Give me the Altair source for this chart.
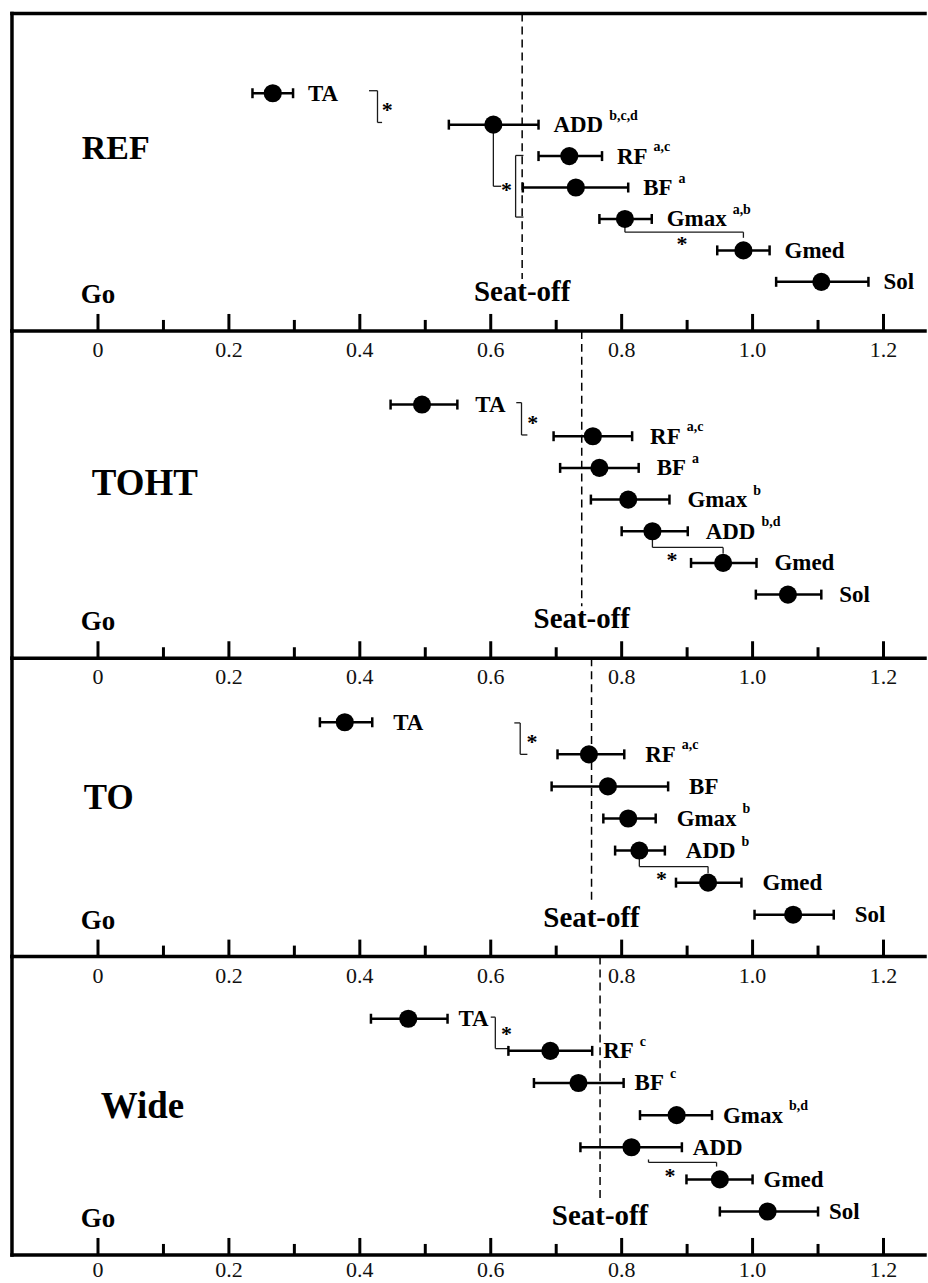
import altair as alt
import pandas as pd

# ---------------- values (time, s) ----------------
panel_names = ["REF", "TOHT", "TO", "Wide"]

ref_muscles = ["TA", "ADD", "RF", "BF", "Gmax", "Gmed", "Sol"]
ref_mean = [0.267, 0.604, 0.720, 0.730, 0.805, 0.986, 1.105]
ref_lo = [0.236, 0.536, 0.673, 0.649, 0.766, 0.946, 1.036]
ref_hi = [0.298, 0.673, 0.770, 0.810, 0.846, 1.026, 1.177]
ref_sup = ["", "b,c,d", "a,c", "a", "a,b", "", ""]
ref_seatoff = 0.648

toht_muscles = ["TA", "RF", "BF", "Gmax", "ADD", "Gmed", "Sol"]
toht_mean = [0.495, 0.756, 0.766, 0.810, 0.847, 0.955, 1.054]
toht_lo = [0.447, 0.696, 0.706, 0.753, 0.800, 0.906, 1.005]
toht_hi = [0.549, 0.816, 0.826, 0.873, 0.901, 1.006, 1.105]
toht_sup = ["", "a,c", "a", "b", "b,d", "", ""]
toht_seatoff = 0.739

to_muscles = ["TA", "RF", "BF", "Gmax", "ADD", "Gmed", "Sol"]
to_mean = [0.377, 0.750, 0.779, 0.810, 0.827, 0.932, 1.062]
to_lo = [0.339, 0.702, 0.693, 0.772, 0.790, 0.883, 1.003]
to_hi = [0.419, 0.804, 0.871, 0.852, 0.866, 0.983, 1.124]
to_sup = ["", "a,c", "", "b", "b", "", ""]
to_seatoff = 0.754

wide_muscles = ["TA", "RF", "BF", "Gmax", "ADD", "Gmed", "Sol"]
wide_mean = [0.474, 0.691, 0.734, 0.884, 0.815, 0.950, 1.023]
wide_lo = [0.417, 0.627, 0.666, 0.828, 0.737, 0.899, 0.950]
wide_hi = [0.534, 0.755, 0.803, 0.938, 0.892, 1.000, 1.100]
wide_sup = ["", "c", "c", "b,d", "", "", ""]
wide_seatoff = 0.767

# significance brackets: segments (time, time2, row, row2) and asterisks (time, row)
ref_brackets = [
    (0.414, 0.427, -0.08, -0.08), (0.427, 0.427, -0.08, 0.93), (0.427, 0.434, 0.93, 0.93),
    (0.604, 0.604, 1.00, 2.96), (0.604, 0.616, 2.96, 2.96),
    (0.638, 0.638, 1.98, 3.94), (0.638, 0.650, 1.98, 1.98), (0.638, 0.650, 3.94, 3.94),
    (0.805, 0.805, 4.00, 4.42), (0.805, 0.986, 4.42, 4.42), (0.986, 0.986, 4.42, 4.60),
]
ref_stars = [(0.442, 0.43), (0.624, 2.99), (0.892, 4.71)]

toht_brackets = [
    (0.639, 0.647, -0.06, -0.06), (0.647, 0.647, -0.06, 0.96), (0.647, 0.656, 0.96, 0.96),
    (0.847, 0.847, 4.00, 4.51), (0.847, 0.955, 4.51, 4.51), (0.955, 0.955, 4.51, 4.70),
]
toht_stars = [(0.664, 0.49), (0.877, 4.80)]

to_brackets = [
    (0.636, 0.645, 0.02, 0.02), (0.645, 0.645, 0.02, 1.00), (0.645, 0.656, 1.00, 1.00),
    (0.827, 0.827, 4.00, 4.50), (0.827, 0.932, 4.50, 4.50), (0.932, 0.932, 4.50, 4.70),
]
to_stars = [(0.663, 0.53), (0.861, 4.79)]

wide_brackets = [
    (0.600, 0.607, -0.05, -0.05), (0.607, 0.607, -0.05, 0.93), (0.607, 0.627, 0.93, 0.93),
    (0.841, 0.841, 4.38, 4.47), (0.841, 0.945, 4.47, 4.47), (0.945, 0.945, 4.47, 4.60),
]
wide_stars = [(0.624, 0.39), (0.874, 4.80)]

go_time = 0.0
tick_values = [0.0, 0.1, 0.2, 0.3, 0.4, 0.5, 0.6, 0.7, 0.8, 0.9, 1.0, 1.1, 1.2]
tick_major = [True, False, True, False, True, False, True, False, True, False, True, False, True]
tick_text = ["0", "", "0.2", "", "0.4", "", "0.6", "", "0.8", "", "1.0", "", "1.2"]

# ---------------- layout / style ----------------
SERIF = "Liberation Serif"
W = 915
PX_PER_S = 656.0
X_MIN = -0.1314
X_MAX = X_MIN + W / PX_PER_S
HEIGHTS = [318, 328, 299, 299]
ROW_TOP = [79.8, 73.8, 64.2, 62.3]
ROW_STEP = [31.5, 31.74, 32.14, 32.2]
LABEL_DX = [15, 18, 21, 11]
NAME_X = [70, 80, 72, 89]
NAME_Y = [145.7, 164.5, 151.3, 161.7]
NAME_SIZE = [34, 37, 35, 37]
BORDER = 3.5

# Times/Liberation Serif Bold advance widths (per 1000 em)
TB = {"T": 667, "A": 722, "D": 722, "R": 722, "F": 611, "B": 667, "G": 778,
      "m": 833, "a": 500, "x": 500, "e": 444, "d": 556, "S": 556, "o": 500, "l": 278}


def text_width(s, size):
    return sum(TB.get(c, 500) for c in s) * size / 1000.0


def make_panel(idx, name, muscles, mean, lo, hi, sup, seat, brackets, stars,
               top_labels, bottom_labels, top_border):
    H = HEIGHTS[idx]
    r0, step = ROW_TOP[idx], ROW_STEP[idx]
    xs = alt.Scale(domain=[X_MIN, X_MAX], nice=False, zero=False)
    ys = alt.Scale(domain=[-r0 / step, (H - r0) / step], reverse=True, nice=False, zero=False)

    def X(f):
        return alt.X(f"{f}:Q", scale=xs, axis=None)

    def Y(f):
        return alt.Y(f"{f}:Q", scale=ys, axis=None)

    df = pd.DataFrame({"muscle": muscles, "row": list(range(len(muscles))),
                       "mean": mean, "lo": lo, "hi": hi, "sup": sup})
    base = alt.Chart(df)
    one = pd.DataFrame({"k": [0]})
    layers = []

    # significance brackets
    bdf = pd.DataFrame(brackets, columns=["bx", "bx2", "by", "by2"])
    layers.append(alt.Chart(bdf).mark_rule(color="#1a1a1a", strokeWidth=1.3).encode(
        x=X("bx"), x2=alt.X2("bx2"), y=Y("by"), y2=alt.Y2("by2")))
    sdf = pd.DataFrame(stars, columns=["sx", "sy"])
    layers.append(alt.Chart(sdf).mark_text(text="*", font=SERIF, fontWeight="bold", fontSize=22,
                                           baseline="alphabetic", dy=10, color="black").encode(
        x=X("sx"), y=Y("sy")))

    # seat-off dashed line + label
    seat_df = pd.DataFrame({"t": [seat], "txt": ["Seat-off"]})
    layers.append(alt.Chart(seat_df).mark_rule(color="black", strokeWidth=1.5, strokeDash=[8, 5]).encode(
        x=X("t"), y=alt.value(0), y2=alt.value(H - 52)))
    layers.append(alt.Chart(seat_df).mark_text(font=SERIF, fontWeight="bold", fontSize=29,
                                               align="center", baseline="alphabetic", color="black").encode(
        x=X("t"), y=alt.value(H - 30), text="txt:N"))

    # Go label
    go_df = pd.DataFrame({"t": [go_time], "txt": ["Go"]})
    layers.append(alt.Chart(go_df).mark_text(font=SERIF, fontWeight="bold", fontSize=27,
                                             align="center", baseline="alphabetic", color="black").encode(
        x=X("t"), y=alt.value(H - 28), text="txt:N"))

    # panel name
    name_df = pd.DataFrame({"txt": [name]})
    layers.append(alt.Chart(name_df).mark_text(font=SERIF, fontWeight="bold", fontSize=NAME_SIZE[idx],
                                               align="left", baseline="alphabetic", color="black").encode(
        x=alt.value(NAME_X[idx]), y=alt.value(NAME_Y[idx]), text="txt:N"))

    # error bars
    layers.append(base.mark_rule(color="black", strokeWidth=2.5).encode(
        x=X("lo"), x2=alt.X2("hi"), y=Y("row")))
    for f in ("lo", "hi"):
        layers.append(base.mark_point(shape="M0,-1L0,1", size=100, filled=False, color="black",
                                      strokeWidth=2.5, opacity=1).encode(x=X(f), y=Y("row")))
    layers.append(base.mark_circle(size=330, color="black", opacity=1).encode(
        x=X("mean"), y=Y("row")))

    # labels
    layers.append(base.mark_text(align="left", baseline="alphabetic", dx=LABEL_DX[idx], dy=7.5,
                                 font=SERIF, fontWeight="bold", fontSize=23, color="black").encode(
        x=X("hi"), y=Y("row"), text="muscle:N"))
    for r, s in enumerate(sup):
        if s:
            dx = LABEL_DX[idx] + text_width(muscles[r], 23) + 6
            layers.append(alt.Chart(df.iloc[[r]]).mark_text(
                align="left", baseline="alphabetic", dx=dx, dy=-5, font=SERIF,
                fontWeight="bold", fontSize=14, color="black").encode(
                x=X("hi"), y=Y("row"), text="sup:N"))

    # axis: ticks pointing up from the bottom line
    tdf = pd.DataFrame({"v": tick_values, "major": tick_major, "txt": tick_text})
    tchart = alt.Chart(tdf)
    layers.append(tchart.transform_filter("datum.major").mark_rule(color="black", strokeWidth=3).encode(
        x=X("v"), y=alt.value(H), y2=alt.value(H - 17)))
    layers.append(tchart.transform_filter("!datum.major").mark_rule(color="black", strokeWidth=3).encode(
        x=X("v"), y=alt.value(H), y2=alt.value(H - 11)))
    if top_labels:
        layers.append(tchart.transform_filter("datum.major").mark_text(
            font=SERIF, fontSize=22, align="center", baseline="alphabetic", color="#111").encode(
            x=X("v"), y=alt.value(26), text="txt:N"))
    if bottom_labels:
        layers.append(tchart.transform_filter("datum.major").mark_text(
            font=SERIF, fontSize=22, align="center", baseline="alphabetic", color="#111").encode(
            x=X("v"), y=alt.value(H + 22), text="txt:N"))

    # frame: left, bottom (and top for the first panel)
    layers.append(alt.Chart(one).mark_rule(color="black", strokeWidth=BORDER, strokeCap="square").encode(
        x=alt.value(0), y=alt.value(0), y2=alt.value(H)))
    layers.append(alt.Chart(one).mark_rule(color="black", strokeWidth=BORDER, strokeCap="square").encode(
        x=alt.value(0), x2=alt.value(W), y=alt.value(H)))
    if top_border:
        layers.append(alt.Chart(one).mark_rule(color="black", strokeWidth=BORDER, strokeCap="square").encode(
            x=alt.value(0), x2=alt.value(W), y=alt.value(0)))

    return alt.layer(*layers).properties(width=W, height=H)


panels = [
    make_panel(0, panel_names[0], ref_muscles, ref_mean, ref_lo, ref_hi, ref_sup, ref_seatoff,
               ref_brackets, ref_stars, False, False, True),
    make_panel(1, panel_names[1], toht_muscles, toht_mean, toht_lo, toht_hi, toht_sup, toht_seatoff,
               toht_brackets, toht_stars, True, False, False),
    make_panel(2, panel_names[2], to_muscles, to_mean, to_lo, to_hi, to_sup, to_seatoff,
               to_brackets, to_stars, True, False, False),
    make_panel(3, panel_names[3], wide_muscles, wide_mean, wide_lo, wide_hi, wide_sup, wide_seatoff,
               wide_brackets, wide_stars, True, True, False),
]

chart = alt.vconcat(*panels, spacing=0, bounds="flush").resolve_scale(
    x="independent", y="independent"
).properties(
    padding={"left": 9, "top": 9.25, "right": 0, "bottom": 0},
    background="white",
).configure_view(stroke=None)

chart.save("out.html", embed_options={"renderer": "svg", "actions": False})
